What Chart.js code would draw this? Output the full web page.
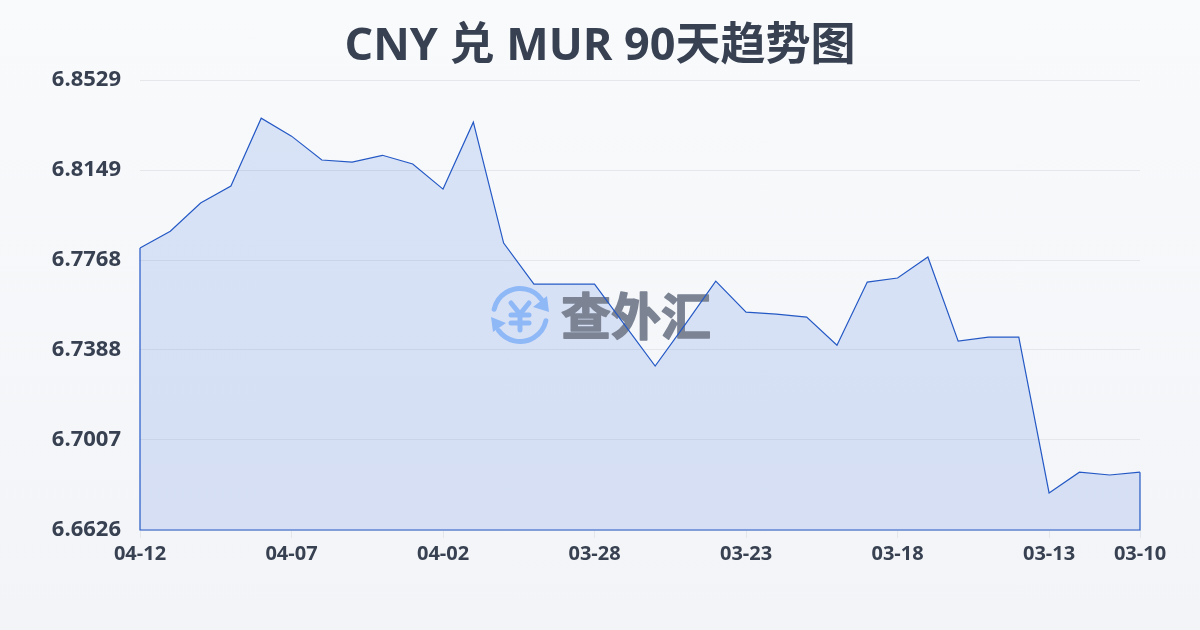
<!DOCTYPE html>
<html lang="zh-CN">
<head>
  <meta charset="UTF-8">
  <title>CNY 兑 MUR 90天趋势图</title>
  <script src="https://cdn.jsdelivr.net/npm/chart.js"></script>
  <style>
    html, body {
      margin: 0;
      width: 1200px;
      height: 630px;
      overflow: hidden;
      background: linear-gradient(180deg, #f9fafc 0%, #f3f4f7 100%);
    }
    canvas { display: block; }
  </style>
</head>
<body>
  <canvas id="rateChart" width="1200" height="630"></canvas>

<script>
  const titleText = 'CNY 兑 MUR 90天趋势图';
  const dates = [
    '04-12', '04-11', '04-10', '04-09', '04-08', '04-07', '04-06', '04-05', '04-04', '04-03', '04-02', '04-01',
    '03-31', '03-30', '03-29', '03-28', '03-27', '03-26', '03-25', '03-24', '03-23', '03-22', '03-21', '03-20',
    '03-19', '03-18', '03-17', '03-16', '03-15', '03-14', '03-13', '03-12', '03-11', '03-10'
  ];
  const rates = [
    6.7819, 6.7890, 6.8009, 6.8081, 6.8368, 6.8292, 6.8191, 6.8182, 6.8211, 6.8174, 6.8068, 6.8351,
    6.7840, 6.7666, 6.7666, 6.7666, 6.7493, 6.7320, 6.7497, 6.7679, 6.7548, 6.7539, 6.7527, 6.7408,
    6.7675, 6.7692, 6.7781, 6.7425, 6.7442, 6.7442, 6.6783, 6.6871, 6.6859, 6.6871
  ];
  const xTickLabels = ['04-12', '04-07', '04-02', '03-28', '03-23', '03-18', '03-13', '03-10'];
  const yTickValues = [6.66264, 6.7007, 6.73876, 6.77682, 6.81488, 6.85294];

  const textColor = '#374151';
  const lineColor = '#2459c5';
  const latin = '"Open Sans", "Noto Sans CJK SC", sans-serif';

  // logo + name behind the line, on top of the fill
  const watermark = {
    id: 'watermark',
    beforeDatasetsDraw(chart) {
      const ctx = chart.ctx;
      ctx.save();
      ctx.strokeStyle = ctx.fillStyle = '#8fb8f7';
      ctx.lineWidth = 5;
      ctx.lineCap = 'round';
      const cx = 520, cy = 315, r = 26.5;
      ctx.beginPath();
      ctx.arc(cx, cy, r, Math.PI * 1.07, Math.PI * 1.8);
      ctx.stroke();
      ctx.beginPath();
      ctx.arc(cx, cy, r, Math.PI * 0.07, Math.PI * 0.8);
      ctx.stroke();
      ctx.beginPath();
      ctx.moveTo(547, 296); ctx.lineTo(549, 312); ctx.lineTo(533, 307);
      ctx.closePath();
      ctx.fill();
      ctx.beginPath();
      ctx.moveTo(491, 317); ctx.lineTo(506, 323); ctx.lineTo(493, 332);
      ctx.closePath();
      ctx.fill();
      ctx.beginPath();
      ctx.moveTo(511, 303); ctx.lineTo(520, 314); ctx.lineTo(529, 303);
      ctx.moveTo(520, 314); ctx.lineTo(520, 330);
      ctx.moveTo(511, 315); ctx.lineTo(529, 315);
      ctx.moveTo(511, 323); ctx.lineTo(529, 323);
      ctx.stroke();
      ctx.fillStyle = ctx.strokeStyle = '#7c8494';
      ctx.font = 'bold 50px "Noto Sans CJK SC"';
      ctx.textAlign = 'left';
      ctx.textBaseline = 'middle';
      ctx.lineWidth = 1.5;
      ctx.lineJoin = 'round';
      ctx.fillText('查外汇', 561, 316);
      ctx.strokeText('查外汇', 561, 316);
      ctx.restore();
    }
  };

  // the area outline also runs down both sides and along the bottom
  const areaEdges = {
    id: 'areaEdges',
    afterDatasetsDraw(chart) {
      const { ctx, scales: { x, y } } = chart;
      const last = rates.length - 1;
      ctx.save();
      ctx.strokeStyle = lineColor;
      ctx.lineWidth = 1.2;
      ctx.beginPath();
      ctx.moveTo(x.getPixelForValue(0), y.getPixelForValue(rates[0]));
      ctx.lineTo(x.getPixelForValue(0), y.bottom);
      ctx.lineTo(x.getPixelForValue(last), y.bottom);
      ctx.lineTo(x.getPixelForValue(last), y.getPixelForValue(rates[last]));
      ctx.stroke();
      ctx.restore();
    }
  };

  new Chart(document.getElementById('rateChart'), {
    type: 'line',
    data: {
      labels: dates,
      datasets: [{
        data: rates,
        borderColor: lineColor,
        borderWidth: 1.2,
        backgroundColor: 'rgba(66, 120, 225, 0.17)',
        pointRadius: 0,
        tension: 0,
        fill: 'origin'
      }]
    },
    plugins: [watermark, areaEdges],
    options: {
      responsive: false,
      animation: false,
      layout: { padding: { bottom: 55 } },
      plugins: {
        legend: { display: false },
        tooltip: { enabled: false },
        filler: { drawTime: 'beforeDatasetsDraw' },
        title: {
          display: true,
          text: titleText,
          color: textColor,
          font: { family: latin, size: 45, weight: 'bold', lineHeight: 55 / 45 },
          padding: { top: 20, bottom: 5 }
        }
      },
      scales: {
        x: {
          offset: false,
          grid: { drawOnChartArea: false, tickLength: 8, tickColor: '#e3e6ea', drawTicks: true },
          border: { display: false },
          afterBuildTicks(axis) {
            axis.ticks = axis.ticks.filter(t => xTickLabels.includes(dates[t.value]));
          },
          afterFit(axis) { axis.height = 45; },
          ticks: {
            autoSkip: false,
            maxRotation: 0,
            padding: 4,
            color: textColor,
            font: { family: latin, size: 20, weight: 'bold' }
          }
        },
        y: {
          min: yTickValues[0],
          max: yTickValues[yTickValues.length - 1],
          grid: { color: '#e5e7eb', lineWidth: 1, drawTicks: false },
          border: { display: false },
          afterBuildTicks(axis) {
            axis.ticks = yTickValues.map(v => ({ value: v }));
          },
          afterFit(axis) { axis.width = 140; },
          ticks: {
            padding: 19,
            color: textColor,
            font: { family: latin, size: 22, weight: 'bold' },
            callback: v => v.toFixed(4)
          }
        },
        // empty right axis, only keeps the margin so the title stays centred on the page
        spacer: {
          position: 'right',
          grid: { display: false },
          border: { display: false },
          ticks: { display: false },
          afterFit(axis) { axis.width = 60; }
        }
      }
    }
  });
</script>

</body>
</html>
